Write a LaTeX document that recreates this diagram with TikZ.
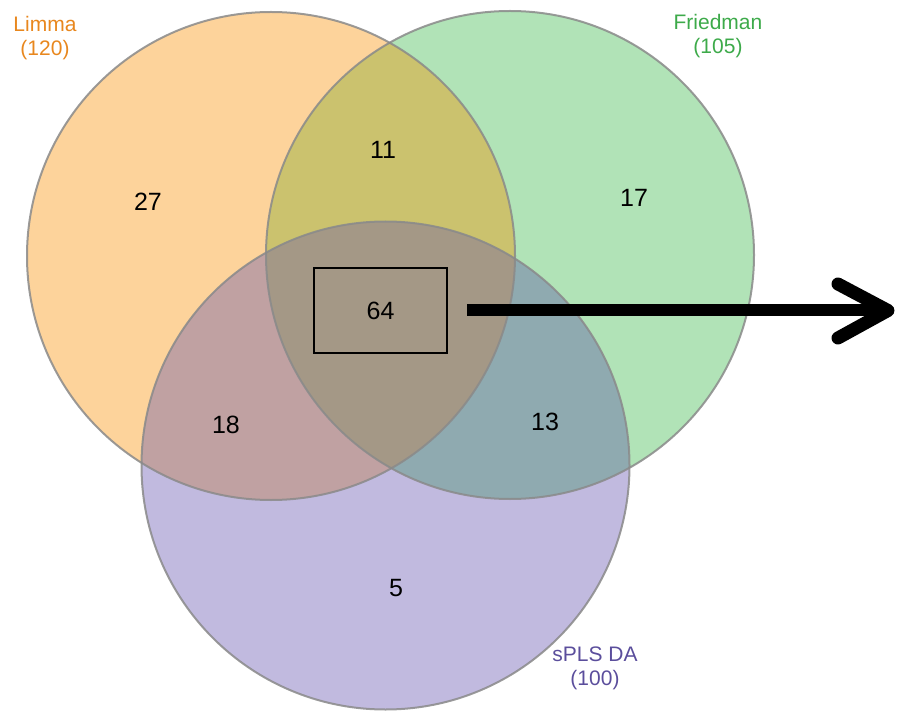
\documentclass[tikz,border=0pt]{standalone}
\usepackage{fontspec}
\setmainfont{Liberation Sans}
\definecolor{cO}{HTML}{FDD39B}
\definecolor{cG}{HTML}{B1E3B7}
\definecolor{cP}{HTML}{C1BADF}
\definecolor{cOG}{HTML}{CBC26E}
\definecolor{cOP}{HTML}{C0A1A2}
\definecolor{cGP}{HTML}{8FAAB0}
\definecolor{cOGP}{HTML}{A49886}
\definecolor{tO}{HTML}{E8871E}
\definecolor{tG}{HTML}{3DAA4A}
\definecolor{tP}{HTML}{5B4E9C}
\definecolor{edge}{HTML}{8A8A8A}
\tikzset{
  num/.style={font=\fontsize{25}{29}\selectfont, text=black},
  lab/.style={font=\fontsize{21}{24}\selectfont, align=center, inner sep=0pt},
  ring/.style={draw=edge, line width=2pt, draw opacity=0.85},
  box/.style={draw=black, line width=2.5pt, minimum width=133pt, minimum height=85pt, inner sep=0pt},
  bigline/.style={line width=12pt, black},
}
\begin{document}
\begin{tikzpicture}[x=1pt,y=-1pt]
\useasboundingbox (0,0) rectangle (897,711);
\coordinate (L) at (271,256);
\coordinate (F) at (510,255);
\coordinate (S) at (385.5,465.5);
\def\R{244}
% base fills
\fill[cO] (L) circle (\R);
\fill[cG] (F) circle (\R);
\fill[cP] (S) circle (\R);
% pairwise
\begin{scope}\clip (L) circle (\R); \fill[cOG] (F) circle (\R); \end{scope}
\begin{scope}\clip (L) circle (\R); \fill[cOP] (S) circle (\R); \end{scope}
\begin{scope}\clip (F) circle (\R); \fill[cGP] (S) circle (\R); \end{scope}
\begin{scope}\clip (L) circle (\R); \clip (F) circle (\R); \fill[cOGP] (S) circle (\R); \end{scope}
% outlines
\draw[ring] (L) circle (\R);
\draw[ring] (F) circle (\R);
\draw[ring] (S) circle (\R);
% labels
\node[lab, text=tO] (limma) at (45,38) {Limma\\(120)};
\node[lab, text=tG] (fried) at (718,36) {Friedman\\(105)};
\node[lab, text=tP] (spls) at (595,668) {sPLS DA\\(100)};
% numbers
\node[num] (n27) at (148,202) {27};
\node[num] (n11) at (383,150) {11};
\node[num] (n17) at (634,198) {17};
\node[num] (n18) at (226,425) {18};
\node[num] (n13) at (545,422) {13};
\node[num] (n5) at (396,588) {5};
\node[box, num] (n64) at (380.5,310.5) {64};
% arrow
\coordinate (tip) at (888,310.5);
\coordinate (armU) at (838,284);
\coordinate (armD) at (838,338);
\draw[bigline] ([xshift=19pt]n64.east) -- (tip);
\draw[bigline, line width=13pt, line cap=round, line join=round] (armU) -- (tip) -- (armD);
\end{tikzpicture}
\end{document}
